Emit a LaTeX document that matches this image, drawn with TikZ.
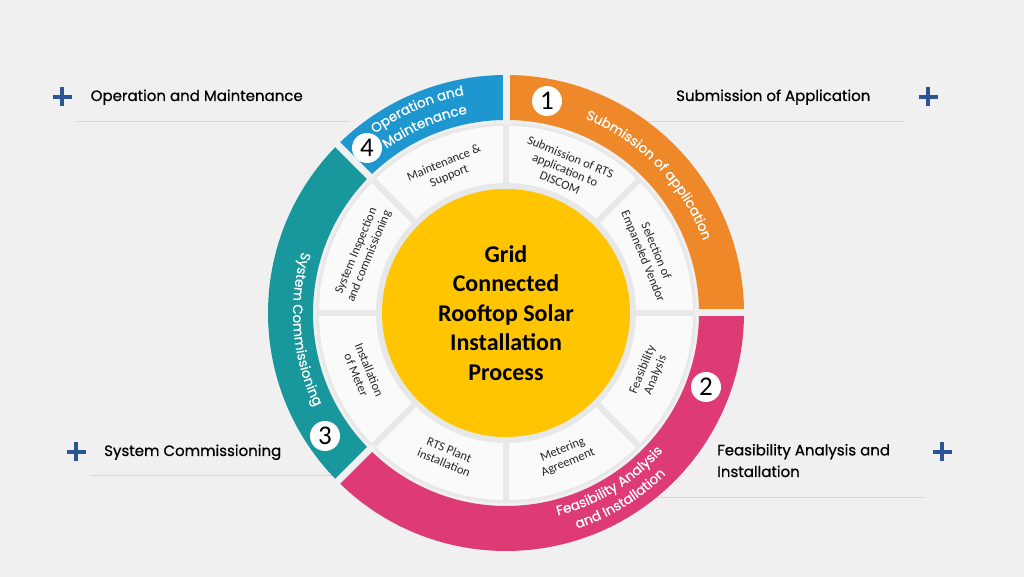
\documentclass[tikz,border=0pt]{standalone}
\usepackage{fontspec}
\usepackage{xcolor}
\usepackage{tikz}
\setmainfont{Carlito}
\newfontfamily\poppins[FakeBold=0.7]{Poppins}
\usetikzlibrary{decorations.text}
\definecolor{bgray}{RGB}{240,240,240}
\definecolor{gapgray}{RGB}{232,232,232}
\definecolor{segwhite}{RGB}{250,250,250}
\definecolor{stepone}{RGB}{238,136,40}
\definecolor{steptwo}{RGB}{221,58,118}
\definecolor{stepthree}{RGB}{24,151,156}
\definecolor{stepfour}{RGB}{30,150,208}
\definecolor{solar}{RGB}{255,197,0}
\definecolor{plusblue}{RGB}{42,84,150}
\definecolor{rulegray}{RGB}{216,216,216}
\newcommand\ringfont{\poppins\fontsize{13.5}{16}\selectfont}

\begin{document}
\begin{tikzpicture}[x=1pt, y=1pt,
  side/.style={anchor=base west, inner sep=0, align=left, font=\poppins\fontsize{15}{21.6}\selectfont},
  segtext/.style={align=center, inner sep=0, text=black!85, font=\fontsize{12.5}{14}\selectfont},
  numdot/.style={circle, fill=white, minimum size=30, inner sep=0, font=\fontsize{27}{27}\selectfont},
  hub/.style={circle, fill=solar, minimum size=248, inner sep=0, align=center, font=\bfseries\fontsize{24}{29.5}\selectfont},
  ringlabel/.style={decorate, decoration={text along path, text color=white, text align=center, text={|\ringfont|#1}}}]
\useasboundingbox (0,0) rectangle (1024,577);
\fill[bgray] (0,0) rectangle (1024,577);

\draw[rulegray] (76,456) -- (350,456);
\draw[rulegray] (640,456) -- (904,456);
\draw[rulegray] (90,102) -- (335,102);
\draw[rulegray] (650,80) -- (925,80);

\foreach \px/\py in {62/480, 928/480, 76/125, 942/125}
  \draw[plusblue, line width=3.4] (\px-9.5,\py) -- (\px+9.5,\py) (\px,\py-9.5) -- (\px,\py+9.5);

\node[side] (om) at (90.5,476) {Operation and Maintenance};
\node[side] (sa) at (676,476) {Submission of Application};
\node[side] (sc) at (104,121) {System Commissioning};
\node[side] (fa) at (717,100) {Feasibility Analysis and\\Installation};

\begin{scope}[shift={(506,264)}]
\foreach \a/\b/\c in {0/90/stepone, -135/0/steptwo, 135/225/stepthree, 90/135/stepfour}
  \fill[\c] (\a:238) arc[start angle=\a, end angle=\b, radius=238] -- (\b:193) arc[start angle=\b, end angle=\a, radius=193] -- cycle;
\fill[gapgray] (0,0) circle (190);
\fill[segwhite] (0,0) circle (187);
\foreach \a in {0,45,...,315}
  \draw[gapgray, line width=6] (0,0) -- (\a:189);
\foreach \a in {0,90,135,225}
  \draw[bgray, line width=7] (\a:188) -- (\a:242);
\fill[gapgray] (0,0) circle (130);
\node[hub] (hub) at (0,0) {Grid\\Connected\\Rooftop Solar\\Installation\\Process};

\foreach \a/\t [count=\i] in {67.5/{Submission of RTS\\application to\\DISCOM}, 22.5/{Selection of\\Empaneled Vendor}, -22.5/{Feasibility\\Analysis}, -67.5/{Metering\\Agreement}, -112.5/{RTS Plant\\installation}, -157.5/{Installation\\of Meter}, 157.5/{System Inspection\\and commissioning}, 112.5/{Maintenance \&\\Support}} {
  \pgfmathsetmacro\tilt{\a>0 ? \a-90 : \a+90}
  \node[segtext, rotate=\tilt] (seg\i) at (\a:155) {\t};
}

\path[ringlabel=Submission of application] (88:210) arc[start angle=88, end angle=0, radius=210];
\path[ringlabel=Feasibility Analysis] (-100:209) arc[start angle=-100, end angle=-17, radius=209];
\path[ringlabel=and Installation] (-100:227) arc[start angle=-100, end angle=-17, radius=227];
\path[ringlabel=System Commissioning] (140:213) arc[start angle=140, end angle=229.4, radius=213];
\path[ringlabel=Operation and] (135:222) arc[start angle=135, end angle=92, radius=222];
\path[ringlabel=Maintenance] (135:203) arc[start angle=135, end angle=92, radius=203];
\end{scope}

\node[numdot] (one) at (547,476) {1};
\node[numdot] (two) at (706,190) {2};
\node[numdot] (three) at (325,141) {3};
\node[numdot] (four) at (367,429) {4};
\end{tikzpicture}
\end{document}
